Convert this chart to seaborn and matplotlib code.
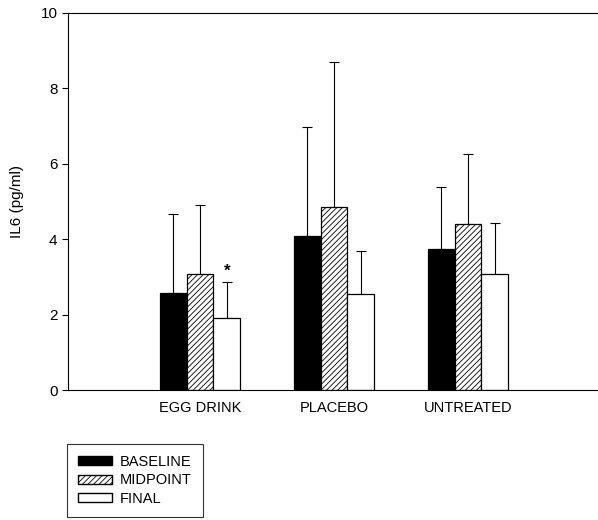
import matplotlib
matplotlib.use("Agg")
import matplotlib.pyplot as plt
import seaborn as sns
import pandas as pd
import numpy as np
from matplotlib.patches import Patch

groups = ["EGG DRINK", "PLACEBO", "UNTREATED"]
phases = ["BASELINE", "MIDPOINT", "FINAL"]
baseline = [2.58, 4.08, 3.73]
midpoint = [3.09, 4.85, 4.39]
final = [1.92, 2.55, 3.07]
baseline_err = [2.09, 2.89, 1.66]
midpoint_err = [1.81, 3.86, 1.86]
final_err = [0.94, 1.15, 1.35]

means = [baseline, midpoint, final]
errs = [baseline_err, midpoint_err, final_err]

rows = []
for p, vals in zip(phases, means):
    for g, v in zip(groups, vals):
        rows.append({"group": g, "phase": p, "value": v})
df = pd.DataFrame(rows)

sns.set_style("ticks", {"axes.edgecolor": "black", "text.color": "black",
                        "axes.labelcolor": "black", "xtick.color": "black",
                        "ytick.color": "black"})
plt.rcParams["font.family"] = ["Liberation Sans", "DejaVu Sans"]
plt.rcParams["hatch.linewidth"] = 0.6

fig = plt.figure(figsize=(5.98, 5.2), dpi=100)
ax = fig.add_axes([0.1137, 0.25, 0.8863, 0.725])

face = ["black", "white", "white"]
hatches = [None, "//////", None]

sns.barplot(data=df, x="group", y="value", hue="phase", order=groups,
            hue_order=phases, errorbar=None, width=0.6, ax=ax,
            palette=["black", "white", "white"], edgecolor="black",
            linewidth=0.9, saturation=1, legend=False)

bar_containers = list(ax.containers)
for i, cont in enumerate(bar_containers):
    xs = []
    for bar in cont.patches:
        bar.set_facecolor(face[i])
        bar.set_edgecolor("black")
        if hatches[i]:
            bar.set_hatch(hatches[i])
        bar.set_zorder(2)
        xs.append(bar.get_x() + bar.get_width() / 2)
    ax.errorbar(xs, means[i], yerr=[np.zeros(3), errs[i]], fmt="none",
                ecolor="black", elinewidth=0.8, capsize=3.6, capthick=0.8,
                zorder=1)

# significance marker on egg drink final
fb = bar_containers[2].patches[0]
fx = fb.get_x() + fb.get_width() / 2
ax.text(fx, final[0] + final_err[0] + 0.08, "*", ha="center", va="bottom",
        fontsize=12, fontweight="bold", color="black")

ax.set_xlim(-0.985, 2.97)
ax.set_ylim(0, 10)
ax.set_yticks([0, 2, 4, 6, 8, 10])
ax.set_ylabel("IL6 (pg/ml)", fontsize=11, labelpad=12, color="black")
ax.set_xlabel("")
ax.tick_params(axis="y", labelsize=11, length=4, width=0.8, direction="out",
               colors="black")
ax.tick_params(axis="x", labelsize=10.5, length=0, pad=8, colors="black")
for s in ["left", "top", "bottom"]:
    ax.spines[s].set_linewidth(0.8)
    ax.spines[s].set_color("black")
ax.spines["right"].set_visible(False)

handles = [Patch(facecolor="black", edgecolor="black", label="BASELINE"),
           Patch(facecolor="white", edgecolor="black", hatch="//////", label="MIDPOINT"),
           Patch(facecolor="white", edgecolor="black", label="FINAL")]
leg = fig.legend(handles=handles, loc="upper left",
                 bbox_to_anchor=(67 / 598, 1 - 444 / 520), fontsize=10.5,
                 frameon=True, fancybox=False, edgecolor="black",
                 handlelength=2.35, handleheight=0.6, handletextpad=0.55,
                 borderpad=0.75, labelspacing=0.3, borderaxespad=0,
                 labelcolor="black")
leg.get_frame().set_linewidth(0.8)

fig.savefig("out.png", dpi=100)
